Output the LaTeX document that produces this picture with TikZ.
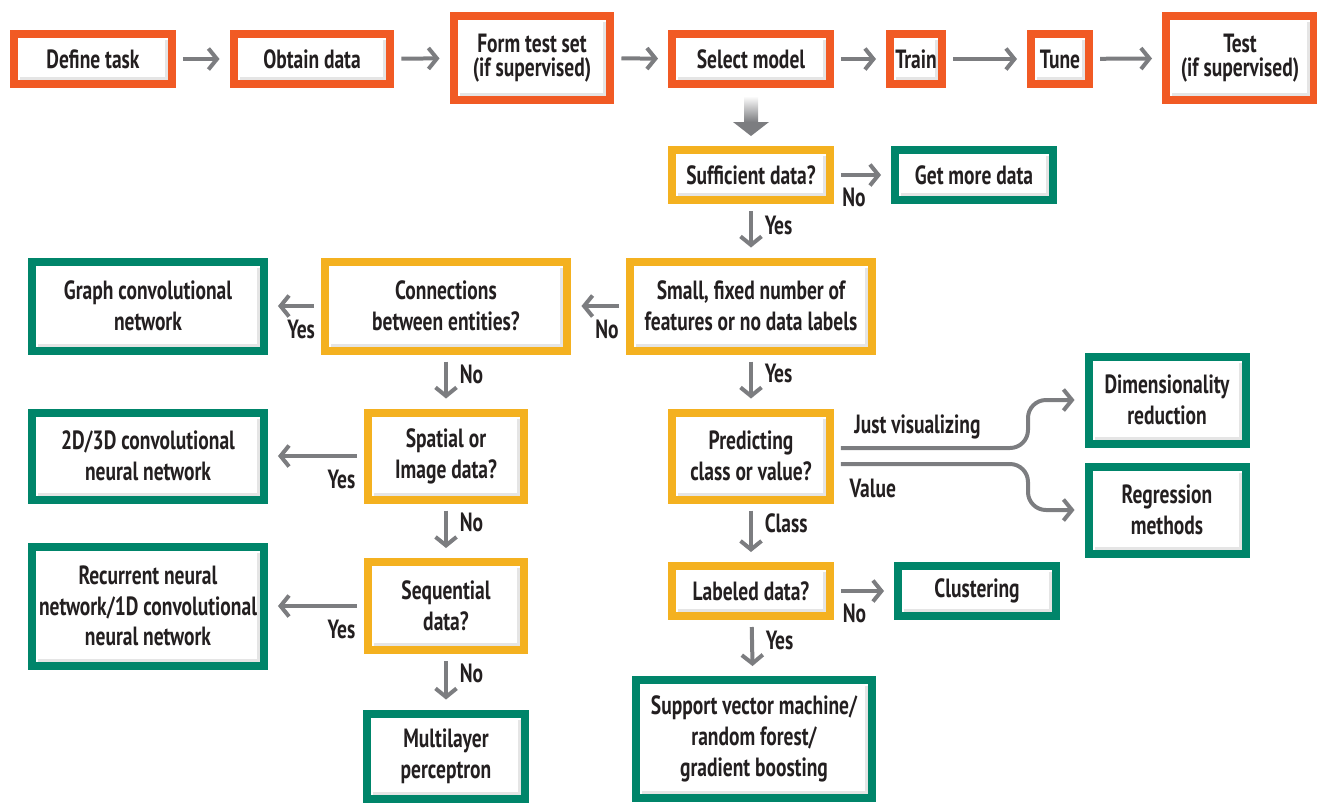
\documentclass[tikz,border=0pt]{standalone}
\usepackage{fontspec}
\setmainfont{PT Sans}[FakeStretch=0.74]
\usepackage{tikz}
\usetikzlibrary{arrows.meta, calc}
\usetikzlibrary{positioning}
\usepackage{xcolor}

\definecolor{stepcol}{HTML}{F15A24}
\definecolor{askcol}{HTML}{F4B120}
\definecolor{endcol}{HTML}{00856A}
\definecolor{arrowgray}{HTML}{7C7D80}
\definecolor{inkcol}{HTML}{231F20}

\tikzset{
    box/.style={draw, line width=0.16cm, fill=white, align=center, inner sep=0pt,
        font=\bfseries\fontsize{15}{17.5}\selectfont, text=inkcol,
        path picture={
            \fill[black, opacity=0.1] ([xshift=0.12cm, yshift=0.08cm]path picture bounding box.south west)
                rectangle ([xshift=-0.08cm, yshift=0.14cm]path picture bounding box.south east);
            \fill[black, opacity=0.1] ([xshift=-0.14cm, yshift=0.14cm]path picture bounding box.south east)
                rectangle ([xshift=-0.08cm, yshift=-0.12cm]path picture bounding box.north east);
        }},
    stepbox/.style={box, draw=stepcol, font=\bfseries\fontsize{15}{13.6}\selectfont},
    askbox/.style={box, draw=askcol},
    endbox/.style={box, draw=endcol},
    conn/.style={draw=arrowgray, line width=0.08cm,
        -{Straight Barb[length=0.17cm, width=0.42cm]},
        shorten >=0.2cm, shorten <=0.14cm},
    lbl/.style={font=\bfseries\fontsize{15}{13.6}\selectfont, text=inkcol, inner sep=1pt},
}

\begin{document}
\begin{tikzpicture}[x=0.02cm, y=-0.02cm]
        \useasboundingbox (0,0) rectangle (1317,802);

        % main pipeline
        \node[stepbox, minimum width=3.16cm, minimum height=1cm] (define) at (93,59) {Define task};
        \node[stepbox, minimum width=3.14cm, minimum height=1cm] (obtain) at (312,59) {Obtain data};
        \node[stepbox, minimum width=3.14cm, minimum height=1.68cm] (form) at (532,58) {Form test set\\(if supervised)};
        \node[stepbox, minimum width=3.16cm, minimum height=1cm] (select) at (751,59) {Select model};
        \node[stepbox, minimum width=1.04cm, minimum height=1cm] (train) at (916,59) {Train};
        \node[stepbox, minimum width=1.16cm, minimum height=1cm] (tune) at (1060,59) {Tune};
        \node[stepbox, minimum width=2.96cm, minimum height=1.68cm] (test) at (1240,58) {Test\\(if supervised)};

        % questions
        \node[askbox, minimum width=3.16cm, minimum height=1cm] (suff) at (751,175) {Sufficient data?};
        \node[askbox, minimum width=4.84cm, minimum height=1.78cm] (small) at (751,306) {Small, fixed number of\\features or no data labels};
        \node[askbox, minimum width=4.86cm, minimum height=1.78cm] (entities) at (446,306) {Connections\\between entities?};
        \node[askbox, minimum width=3.14cm, minimum height=1.74cm] (spatial) at (446,456) {Spatial or\\Image data?};
        \node[askbox, minimum width=3.14cm, minimum height=1.76cm] (seq) at (446,606) {Sequential\\data?};
        \node[askbox, minimum width=3.16cm, minimum height=1.74cm] (pred) at (751,456) {Predicting\\class or value?};
        \node[askbox, minimum width=3.16cm, minimum height=1cm] (labeled) at (751,591) {Labeled data?};

        % outcomes
        \node[endbox, minimum width=3.16cm, minimum height=1cm] (getmore) at (974,175) {Get more data};
        \node[endbox, minimum width=4.64cm, minimum height=1.78cm] (graph) at (148,306) {Graph convolutional\\network};
        \node[endbox, minimum width=4.64cm, minimum height=1.74cm] (cnn) at (148,456) {2D/3D convolutional\\neural network};
        \node[endbox, minimum width=4.64cm, minimum height=2.38cm] (rnn) at (148,606) {Recurrent neural\\network/1D convolutional\\neural network};
        \node[endbox, minimum width=3.16cm, minimum height=1.70cm] (mlp) at (446,756) {Multilayer\\perceptron};
        \node[endbox, minimum width=3.14cm, minimum height=1.74cm] (dimred) at (1167,400) {Dimensionality\\reduction};
        \node[endbox, minimum width=3.14cm, minimum height=1.74cm] (regr) at (1167,510) {Regression\\methods};
        \node[endbox, minimum width=3.16cm, minimum height=1cm] (cluster) at (977,591) {Clustering};
        \node[endbox, minimum width=4.72cm, minimum height=2.36cm] (svm) at (754,739) {Support vector machine/\\random forest/\\gradient boosting};

        % pipeline arrows
        \draw[conn] (define) -- (obtain);
        \draw[conn] (obtain) -- (form);
        \draw[conn] (form) -- (select);
        \draw[conn] (select) -- (train);
        \draw[conn] (train) -- (tune);
        \draw[conn] (tune) -- (test);

        % big arrow into the decision tree
        \shade[top color=white, bottom color=arrowgray] ($(select.south)+(-7,8)$) rectangle ($(select.south)+(7,34)$);
        \fill[arrowgray] ($(select.south)+(-18,34)$) -- ($(select.south)+(18,34)$) -- ($(suff.north)+(0,-10)$) -- cycle;

        \draw[conn] (suff) -- node[lbl, below=0.18cm, pos=0.35] (l1) {No} (getmore);
        \draw[conn] (suff) -- node[lbl, right=0.2cm, pos=0.4] (l2) {Yes} (small);
        \draw[conn] (small) -- node[lbl, below=0.2cm, pos=0.35] (l3) {No} (entities);
        \draw[conn] (entities) -- node[lbl, below=0.2cm, pos=0.37] (l4) {Yes} (graph);
        \draw[conn] (entities) -- node[lbl, right=0.2cm, pos=0.36] (l5) {No} (spatial);
        \draw[conn] (spatial) -- node[lbl, below=0.2cm, pos=0.23] (l6) {Yes} (cnn);
        \draw[conn] (spatial) -- node[lbl, right=0.2cm, pos=0.35] (l7) {No} (seq);
        \draw[conn] (seq) -- node[lbl, below=0.2cm, pos=0.23] (l8) {Yes} (rnn);
        \draw[conn] (seq) -- node[lbl, right=0.2cm, pos=0.35] (l9) {No} (mlp);
        \draw[conn] (small) -- node[lbl, right=0.2cm, pos=0.36] (l10) {Yes} (pred);
        \draw[conn, rounded corners=0.36cm] ($(pred.east)+(0,-8)$) -- node[lbl, above=0.1cm, pos=0.43] (l11) {Just visualizing} ++(194,0) |- (dimred.west);
        \draw[conn, rounded corners=0.36cm] ($(pred.east)+(0,8)$) -- node[lbl, below=0.22cm, pos=0.2] (l12) {Value} ++(194,0) |- (regr.west);
        \draw[conn] (pred) -- node[lbl, right=0.2cm, pos=0.34] (l13) {Class} (labeled);
        \draw[conn] (labeled) -- node[lbl, below=0.18cm, pos=0.34] (l14) {No} (cluster);
        \draw[conn] (labeled) -- node[lbl, right=0.2cm, pos=0.36] (l15) {Yes} (svm);

    \end{tikzpicture}
\end{document}
